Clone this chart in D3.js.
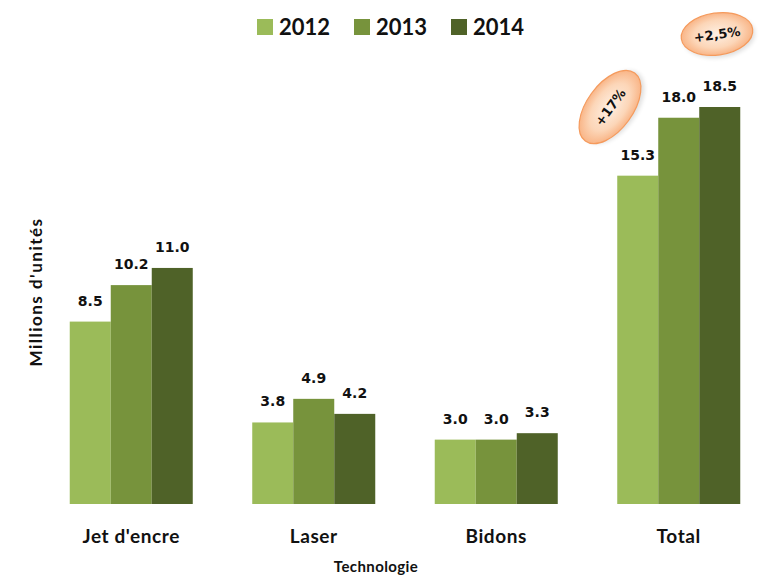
<!DOCTYPE html>
<html>
<head>
<meta charset="utf-8">
<script src="https://cdn.jsdelivr.net/npm/d3@7"></script>
<style>
  body { margin: 0; background: #fff; }
  text { font-family: Lato, "Open Sans", sans-serif; font-weight: bold; fill: #111; }
  .val { font-family: "DejaVu Sans", sans-serif; }
</style>
</head>
<body>
<div id="chart"></div>
<script>
// data
let categories = ["Jet d'encre", "Laser", "Bidons", "Total"];
let years = ["2012", "2013", "2014"];
let values2012 = [8.5, 3.8, 3.0, 15.3];
let values2013 = [10.2, 4.9, 3.0, 18.0];
let values2014 = [11.0, 4.2, 3.3, 18.5];
let colors = ["#9bbb59", "#77933c", "#4f6228"];
let growthLabels = ["+17%", "+2,5%"];

let width = 767, height = 580;
let baseline = 504;

let svg = d3.select("#chart")
            .append("svg")
            .attr("width", width)
            .attr("height", height);

// table of rows for the bars
let series = [values2012, values2013, values2014];
let rows = [];
categories.forEach(function(c, i) {
  years.forEach(function(y, j) {
    rows.push({cat: c, year: y, value: series[j][i], idx: j});
  });
});

// scales
let x0 = d3.scaleBand()
           .domain(categories)
           .range([40, 770])
           .paddingInner(0.326)
           .paddingOuter(0.163);

let x1 = d3.scaleBand()
           .domain(years)
           .range([0, x0.bandwidth()]);

let y = d3.scaleLinear()
          .domain([0, 18.5])
          .range([baseline, 107]);

// gradient for the callouts
let defs = svg.append("defs");
let grad = defs.append("radialGradient").attr("id", "peach");
grad.append("stop").attr("offset", "0%").attr("stop-color", "#fef0e4");
grad.append("stop").attr("offset", "65%").attr("stop-color", "#fcd6b8");
grad.append("stop").attr("offset", "100%").attr("stop-color", "#f9b587");
let blur = defs.append("filter").attr("id", "shadow")
               .attr("x", "-30%").attr("y", "-30%").attr("width", "160%").attr("height", "160%");
blur.append("feGaussianBlur").attr("stdDeviation", 2);

//bars
svg.append("g").selectAll("rect")
   .data(rows)
   .enter()
   .append("rect")
   .attr("x", function(d) { return x0(d.cat) + x1(d.year) })
   .attr("y", function(d) { return y(d.value) })
   .attr("width", x1.bandwidth())
   .attr("height", function(d) { return y(0) - y(d.value) })
   .attr("fill", function(d) { return colors[d.idx] });

//value labels
svg.append("g").selectAll("text")
   .data(rows)
   .enter()
   .append("text")
   .attr("class", "val")
   .attr("x", function(d) { return x0(d.cat) + x1(d.year) + x1.bandwidth()/2 })
   .attr("y", function(d) { return y(d.value) - 16 })
   .style("text-anchor", "middle")
   .style("font-size", "14px")
   .text(function(d) { return d.value.toFixed(1) });

//category labels
svg.append("g").selectAll("text")
   .data(categories)
   .enter()
   .append("text")
   .attr("x", function(d) { return x0(d) + x0.bandwidth()/2 })
   .attr("y", 543)
   .style("text-anchor", "middle")
   .style("font-size", "19px")
   .style("letter-spacing", "0.6px")
   .text(function(d) { return d });

//axis titles
svg.append("text")
   .attr("transform", "translate(376,572)")
   .style("text-anchor", "middle")
   .style("font-size", "15px")
   .style("letter-spacing", "0.4px")
   .text("Technologie");

svg.append("text")
   .attr("transform", "translate(42,292) rotate(-90)")
   .style("text-anchor", "middle")
   .style("font-size", "17px")
   .style("letter-spacing", "1.5px")
   .text("Millions d'unités");

//legend
let legend = svg.append("g").selectAll("g")
                .data(years)
                .enter()
                .append("g")
                .attr("transform", function(d, i) { return `translate(${257 + i*97},19)` });
legend.append("rect")
      .attr("width", 16).attr("height", 16)
      .attr("fill", function(d, i) { return colors[i] });
legend.append("text")
      .attr("x", 22).attr("y", 16)
      .style("font-size", "22px")
      .text(function(d) { return d });

//growth callouts
let callouts = [
  {text: growthLabels[0], cx: 610, cy: 107, rx: 42, ry: 23, rot: -54},
  {text: growthLabels[1], cx: 717, cy: 34, rx: 36, ry: 21, rot: -8}
];
let cg = svg.append("g").selectAll("g")
            .data(callouts)
            .enter()
            .append("g")
            .attr("transform", function(d) { return `translate(${d.cx},${d.cy}) rotate(${d.rot})` });
cg.append("ellipse")
  .attr("cx", 2).attr("cy", 3)
  .attr("rx", function(d) { return d.rx }).attr("ry", function(d) { return d.ry })
  .attr("fill", "#000").attr("opacity", 0.12)
  .attr("filter", "url(#shadow)");
cg.append("ellipse")
  .attr("rx", function(d) { return d.rx }).attr("ry", function(d) { return d.ry })
  .attr("fill", "url(#peach)")
  .attr("stroke", "#f59a5c")
  .attr("stroke-width", 1.2);
cg.append("text")
  .attr("class", "val")
  .attr("y", 5)
  .style("text-anchor", "middle")
  .style("font-size", "13px")
  .text(function(d) { return d.text });
</script>
</body>
</html>
